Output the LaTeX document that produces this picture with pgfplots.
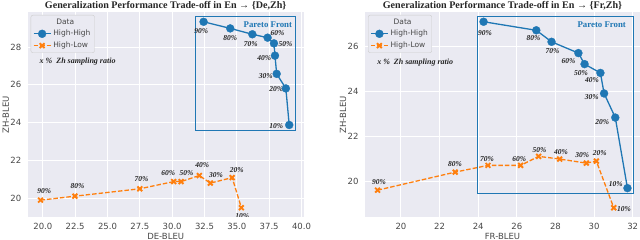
\documentclass[border=0pt]{standalone}
\usepackage{pgfplots}
\pgfplotsset{compat=1.18}
\usepackage{fontspec}
\setmainfont{Liberation Serif}
\setsansfont{DejaVu Sans}
\definecolor{bgc}{HTML}{EAEAF2}
\definecolor{cblue}{HTML}{1F77B4}
\definecolor{corange}{HTML}{FF7F0E}
\definecolor{txt}{HTML}{262626}
\definecolor{legedge}{HTML}{CCCCCC}
\tikzset{lab/.style={font=\bfseries\itshape\fontsize{7.5}{8}\selectfont, text=txt, inner sep=0pt}}
\pgfplotsset{
  myax/.style={
    scale only axis,
    width=276pt, height=204.5pt,
    axis background/.style={fill=bgc},
    axis line style={draw=none},
    major tick length=0pt,
    grid=major,
    grid style={white, line width=0.9pt},
    tick label style={font=\sffamily\fontsize{8.5}{10}\selectfont, text=txt!85},
    /pgf/number format/assume math mode=true,
    xticklabel style={yshift=-2.5pt},
    yticklabel style={xshift=-3pt},
    every axis x label/.style={at={(axis description cs:0.5,-0.095)},anchor=center,
       font=\sffamily\fontsize{8.5}{10}\selectfont, text=txt!85},
    every axis y label/.style={at={(axis description cs:-0.079,0.5)},rotate=90,anchor=center,
       font=\sffamily\fontsize{8.5}{10}\selectfont, text=txt!85},
    every axis title/.style={at={(axis description cs:0.5,1.033)},anchor=center,
       font=\bfseries\fontsize{10.1}{11}\selectfont, text=txt},
    legend style={at={(0.011,0.988)}, anchor=north west, fill=bgc, draw=legedge,
      rounded corners=2pt, font=\sffamily\fontsize{7.5}{9}\selectfont, text=txt!85,
      row sep=0.6pt, inner xsep=2pt, inner ysep=1.5pt},
    legend cell align=left,
  },
  hh/.style={color=cblue, line width=1.3pt, mark=*, mark size=4pt, mark options={solid, fill=cblue, draw=cblue, line width=0.3pt}},
  hl/.style={color=corange, line width=1.3pt, dash pattern=on 4.5pt off 2pt, mark=x, mark size=3.4pt, mark options={solid, line width=1.9pt}},
}
\begin{document}
\begin{tikzpicture}[x=1pt,y=1pt]
\useasboundingbox (0,0) rectangle (640,240);
% ---------------- Left ----------------
\begin{axis}[myax, at={(27.7pt,23pt)}, anchor=south west,
  xmin=18.83, xmax=40.17, ymin=19.02, ymax=29.82,
  xtick={20,22.5,25,27.5,30,32.5,35,37.5,40},
  xticklabel style={/pgf/number format/.cd, fixed, fixed zerofill, precision=1},
  ytick={20,22,24,26,28},
  xlabel={DE-BLEU}, ylabel={ZH-BLEU},
  title={Generalization Performance Trade-off in En → \{De,Zh\}},
]
\addlegendimage{empty legend}
\addlegendentry{\hspace*{-12pt}\makebox[48pt][c]{Data}}
\addplot[hh] coordinates {(32.43,29.33) (34.49,28.98) (36.20,28.67) (37.38,28.49) (37.87,28.19) (37.95,27.54) (38.08,26.58) (38.79,25.81) (39.05,23.88)};
\addlegendentry{High-High}
\addplot[hl] coordinates {(19.82,19.91) (22.48,20.12) (27.50,20.51) (30.12,20.89) (30.69,20.89) (32.10,21.21) (32.95,20.81) (34.64,21.10) (35.35,19.51)};
\addlegendentry{High-Low}
\draw[cblue, line width=1pt] (axis cs:31.79,23.58) rectangle (axis cs:39.54,29.63);
\node[font=\bfseries\fontsize{8.8}{9}\selectfont, text=cblue] at (axis cs:37.40,29.18) {Pareto Front};
\node[font=\bfseries\itshape\fontsize{8}{9}\selectfont, text=txt] at (axis cs:22.69,27.21) {x \%\ \ Zh sampling ratio};
% labels high-high
\node[lab] at (axis cs:32.25,28.86) {90\%};
\node[lab] at (axis cs:34.49,28.46) {80\%};
\node[lab] at (axis cs:36.08,28.14) {70\%};
\node[lab] at (axis cs:38.15,28.72) {60\%};
\node[lab] at (axis cs:38.77,28.17) {50\%};
\node[lab] at (axis cs:37.12,27.41) {40\%};
\node[lab] at (axis cs:37.23,26.47) {30\%};
\node[lab] at (axis cs:38.05,25.77) {20\%};
\node[lab] at (axis cs:38.05,23.83) {10\%};
% labels high-low
\node[lab] at (axis cs:20.10,20.41) {90\%};
\node[lab] at (axis cs:22.69,20.65) {80\%};
\node[lab] at (axis cs:27.62,21.04) {70\%};
\node[lab] at (axis cs:29.69,21.35) {60\%};
\node[lab] at (axis cs:31.10,21.32) {50\%};
\node[lab] at (axis cs:32.33,21.75) {40\%};
\node[lab] at (axis cs:33.38,21.21) {30\%};
\node[lab] at (axis cs:35.00,21.49) {20\%};
\node[lab] at (axis cs:35.41,19.07) {10\%};
\end{axis}
% ---------------- Right ----------------
\begin{axis}[myax, at={(365pt,23pt)}, anchor=south west, width=275pt,
  xmin=18.14, xmax=32.38, ymin=18.42, ymax=27.49,
  xtick={20,22,24,26,28,30,32},
  ytick={20,22,24,26},
  xlabel={FR-BLEU}, ylabel={ZH-BLEU},
  title={Generalization Performance Trade-off in En → \{Fr,Zh\}},
  every axis y label/.append style={at={(axis description cs:-0.08,0.5)}},
]
\addlegendimage{empty legend}
\addlegendentry{\hspace*{-12pt}\makebox[48pt][c]{Data}}
\addplot[hh] coordinates {(24.28,27.08) (27.01,26.70) (27.80,26.19) (29.19,25.69) (29.51,25.20) (30.33,24.81) (30.52,23.90) (31.10,22.83) (31.73,19.70)};
\addlegendentry{High-High}
\addplot[hl] coordinates {(18.79,19.61) (22.81,20.41) (24.51,20.71) (26.20,20.71) (27.13,21.11) (28.22,20.99) (29.60,20.81) (30.12,20.90) (31.02,18.83)};
\addlegendentry{High-Low}
\draw[cblue, line width=1pt] (axis cs:23.97,19.48) rectangle (axis cs:32.05,27.33);
\node[font=\bfseries\fontsize{8.8}{9}\selectfont, text=cblue] at (axis cs:30.40,26.96) {Pareto Front};
\node[font=\bfseries\itshape\fontsize{8}{9}\selectfont, text=txt] at (axis cs:20.74,25.29) {x \%\ \ Zh sampling ratio};
\node[lab] at (axis cs:24.35,26.59) {90\%};
\node[lab] at (axis cs:26.87,26.34) {80\%};
\node[lab] at (axis cs:27.85,25.79) {70\%};
\node[lab] at (axis cs:28.68,25.33) {60\%};
\node[lab] at (axis cs:29.33,24.79) {50\%};
\node[lab] at (axis cs:29.90,24.48) {40\%};
\node[lab] at (axis cs:29.88,23.72) {30\%};
\node[lab] at (axis cs:30.43,22.64) {20\%};
\node[lab] at (axis cs:31.12,19.87) {10\%};
\node[lab] at (axis cs:18.86,19.96) {90\%};
\node[lab] at (axis cs:22.80,20.76) {80\%};
\node[lab] at (axis cs:24.46,21.01) {70\%};
\node[lab] at (axis cs:26.13,21.01) {60\%};
\node[lab] at (axis cs:27.18,21.41) {50\%};
\node[lab] at (axis cs:28.29,21.32) {40\%};
\node[lab] at (axis cs:29.39,21.17) {30\%};
\node[lab] at (axis cs:30.29,21.26) {20\%};
\node[lab] at (axis cs:31.55,18.79) {10\%};
\end{axis}
\end{tikzpicture}
\end{document}
